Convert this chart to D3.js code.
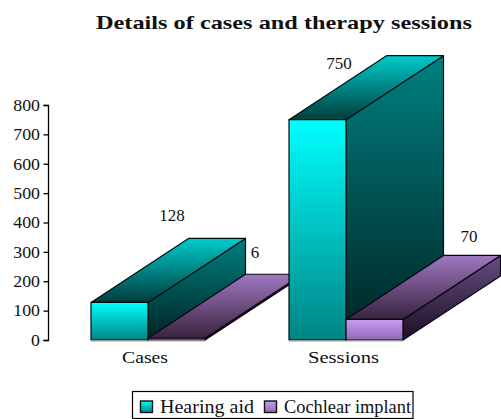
<!DOCTYPE html>
<html><head><meta charset="utf-8">
<script src="https://cdn.jsdelivr.net/npm/d3@7/dist/d3.min.js"></script>
<style>html,body{margin:0;padding:0;background:#fff}svg{display:block}text{font-family:"Liberation Serif","Times New Roman",serif;fill:#111}</style>
</head><body><svg id="c" width="501" height="419"></svg>
<script>
const categories=["Cases","Sessions"];
const seriesNames=["Hearing aid","Cochlear implant"];
const hearingAid=[128,750];
const cochlear=[6,70];
const yTicks=[0,100,200,300,400,500,600,700,800];
const title="Details of cases and therapy sessions";
const palette={
 "Hearing aid":{front:["#00ffff","#008484"],top:["#00cccc","#003c3c"],side:["#008080","#002424"],stroke:"#000f0f"},
 "Cochlear implant":{front:["#c99cf5","#9068b4"],top:["#a078c0","#38233f"],side:["#664c80","#1c1024"],stroke:"#0a0410"}
};
const depthX=97.5,depthY=64;
const svg=d3.select("#c");
const y=d3.scaleLinear().domain([0,800]).range([340,105]);
const x0=d3.scaleBand().domain(categories).range([49,445]).paddingInner(84/198).paddingOuter(42/198);
const x1=d3.scaleBand().domain(seriesNames).range([0,x0.bandwidth()]);
const defs=svg.append("defs");
function grad(id,stops){
 const g=defs.append("linearGradient").attr("id",id).attr("x1",0).attr("y1",0).attr("x2",0).attr("y2",1);
 g.append("stop").attr("offset",0).attr("stop-color",stops[0]);
 g.append("stop").attr("offset",1).attr("stop-color",stops[1]);
}
seriesNames.forEach((s,i)=>{["front","top","side"].forEach(f=>grad(`g${i}${f}`,palette[s][f]));});
function fit(sel,w){return sel.attr("textLength",w).attr("lengthAdjust","spacingAndGlyphs");}

fit(svg.append("text").attr("x",284).attr("y",28.5).attr("text-anchor","middle")
 .style("font-size","19px").style("font-weight","bold").text(title),376);

// axis
const axis=d3.axisLeft(y).tickValues(yTicks).tickSize(4.5).tickPadding(3.5);
const ga=svg.append("g").attr("transform","translate(48,0)").call(axis);
ga.selectAll("path,line").attr("stroke","#000").attr("stroke-width",1.3);
ga.selectAll("text").style("font-size","16.5px").style("font-family",'"Liberation Serif",serif').attr("fill","#111");
ga.selectAll("text").each(function(d){fit(d3.select(this),String(d).length*8.9);});

// bars
const rows=[];
categories.forEach((c,ci)=>{
 rows.push({c,s:seriesNames[0],si:0,v:hearingAid[ci]});
 rows.push({c,s:seriesNames[1],si:1,v:cochlear[ci]});
});
const labelOffsets={"Cases0":[81,-17.4],"Cases1":[50,-16],"Sessions0":[50,13],"Sessions1":[66,-13.5]};
const b=y(0);
rows.forEach(d=>{
 const l=x0(d.c)+x1(d.s),r=l+x1.bandwidth(),t=y(d.v);
 const g=svg.append("g").attr("stroke",palette[d.s].stroke).attr("stroke-width",1.2).attr("stroke-linejoin","round");
 g.append("polygon").attr("fill",`url(#g${d.si}side)`)
  .attr("points",[[r,t],[r+depthX,t-depthY],[r+depthX,b-depthY],[r,b]].join(" "));
 g.append("polygon").attr("fill",`url(#g${d.si}top)`)
  .attr("points",[[l,t],[l+depthX,t-depthY],[r+depthX,t-depthY],[r,t]].join(" "));
 g.append("rect").attr("fill",`url(#g${d.si}front)`).attr("x",l).attr("y",t).attr("width",r-l).attr("height",b-t);
 svg.append("line").attr("x1",l).attr("x2",r).attr("y1",b+1.2).attr("y2",b+1.2).attr("stroke","#bbb");
 d.off=labelOffsets[d.c+d.si];
});
rows.forEach(d=>{
 const l=x0(d.c)+x1(d.s),anchor=d.si?l+x1.bandwidth():l,t=y(d.v)-depthY;
 fit(svg.append("text").attr("x",anchor+d.off[0]).attr("y",t+d.off[1])
  .attr("text-anchor","middle").style("font-size","16.5px").text(d.v),String(d.v).length*8.5);
});

// category labels
const catWidths=[46,71];
svg.selectAll(".cat").data(categories).join("text").attr("class","cat")
 .attr("x",d=>x0(d)+x0.bandwidth()/2-(d==="Cases"?3:2.5)).attr("y",363).attr("text-anchor","middle")
 .style("font-size","16.5px").attr("textLength",(d,i)=>catWidths[i]).attr("lengthAdjust","spacingAndGlyphs").text(d=>d);

// legend
const lg=svg.append("g");
lg.append("rect").attr("x",132.5).attr("y",391.5).attr("width",280.5).attr("height",27).attr("fill","#fff").attr("stroke","#000").attr("stroke-width",1.2);
const lx=d3.scaleOrdinal().domain(seriesNames).range([140.5,264.5]);
const legendWidths=[94,127];
seriesNames.forEach((s,i)=>{
 lg.append("rect").attr("x",lx(s)).attr("y",401).attr("width",12).attr("height",11.5).attr("fill",`url(#g${i}front)`).attr("stroke","#111").attr("stroke-width",1.4);
 fit(lg.append("text").attr("x",lx(s)+19.5).attr("y",413).style("font-size","18px").text(s),legendWidths[i]);
});
</script></body></html>
